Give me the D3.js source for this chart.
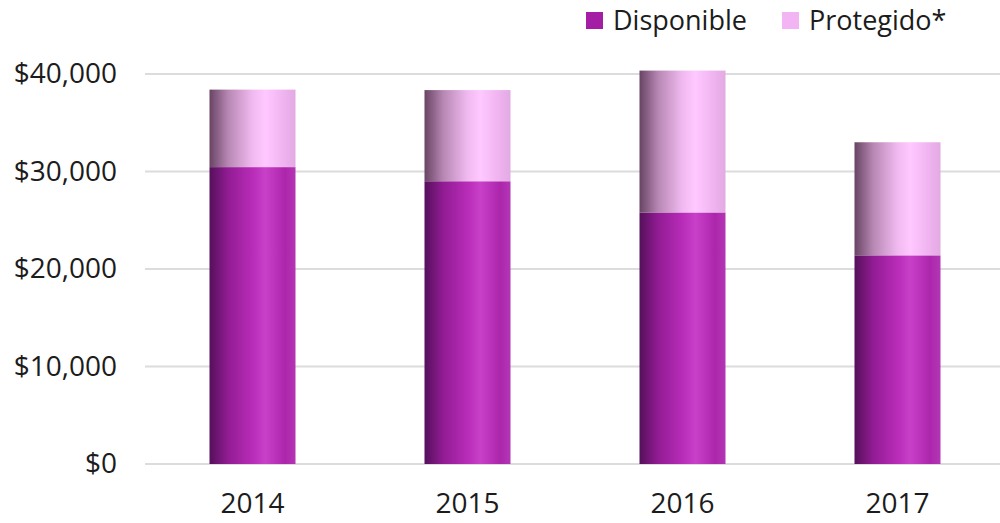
<!DOCTYPE html>
<html>
<head>
<meta charset="utf-8">
<script src="https://cdn.jsdelivr.net/npm/d3@7"></script>
<style>
  body { margin: 0; background: #fff; }
  text { font-family: "Open Sans", sans-serif; fill: #1c1c1c; }
</style>
</head>
<body>
<div id="chart"></div>
<script>
// chart data
var years = ['2014', '2015', '2016', '2017'];
var disponible = [30450, 29000, 25800, 21400];
var protegido = [7950, 9350, 14550, 11600];
var seriesNames = ['Disponible', 'Protegido*'];
var yTicks = [0, 10000, 20000, 30000, 40000];

var svgWidth = 1000,
  svgHeight = 523;

var margin = { t: 74, r: 0, b: 59, l: 145 };
var width = svgWidth - margin.l - margin.r,
  height = svgHeight - margin.t - margin.b;

var svg = d3.select('#chart')
  .append('svg')
  .attr('width', svgWidth)
  .attr('height', svgHeight);

// horizontal gradients to fake the cylinder shading
var defs = svg.append('defs');
function addGradient(id, stops) {
  var g = defs.append('linearGradient')
    .attr('id', id)
    .attr('x1', '0%').attr('x2', '100%')
    .attr('y1', '0%').attr('y2', '0%');
  stops.forEach(s => g.append('stop').attr('offset', s[0]).attr('stop-color', s[1]));
}
addGradient('gradDisp', [
  ['0%', '#55105a'], ['22%', '#921c94'], ['50%', '#b82cb8'],
  ['65%', '#c840c8'], ['88%', '#ac26ac'], ['100%', '#b436b4']
]);
addGradient('gradProt', [
  ['0%', '#684464'], ['22%', '#b888b4'], ['50%', '#f0baf0'],
  ['65%', '#ffc8ff'], ['88%', '#eeb2ee'], ['100%', '#e2aae2']
]);

var chartGroup = svg.append('g')
  .attr('transform', `translate(${margin.l},${margin.t})`);

var xScale = d3.scaleBand()
  .domain(years)
  .range([0, 860])
  .paddingInner(0.6)
  .paddingOuter(0.3);

var yScale = d3.scaleLinear()
  .domain([0, 40000])
  .range([height, 0]);

// gridlines
chartGroup.append('g')
  .selectAll('line')
  .data(yTicks)
  .enter()
  .append('line')
  .attr('x1', 0)
  .attr('x2', width)
  .attr('y1', d => yScale(d))
  .attr('y2', d => yScale(d))
  .attr('stroke', '#dcdcdc')
  .attr('stroke-width', 2);

// y axis labels
var yAxis = d3.axisLeft(yScale)
  .tickValues(yTicks)
  .tickSize(0)
  .tickPadding(28)
  .tickFormat(d => '$' + d3.format(',')(d));
var yG = chartGroup.append('g').call(yAxis);
yG.select('.domain').remove();
yG.selectAll('text')
  .style('font-size', '28px')
  .attr('fill', '#1c1c1c');

// x axis labels
var xAxis = d3.axisBottom(xScale).tickSize(0).tickPadding(29);
var xG = chartGroup.append('g')
  .attr('transform', `translate(0,${height})`)
  .call(xAxis);
xG.select('.domain').remove();
xG.selectAll('text')
  .style('font-size', '28px')
  .attr('fill', '#1c1c1c');

// stacked bars
var stackData = years.map((y, i) => ({ year: y, disp: disponible[i], prot: protegido[i] }));

chartGroup.append('g').selectAll('rect')
  .data(stackData)
  .enter()
  .append('rect')
  .attr('x', d => xScale(d.year))
  .attr('width', xScale.bandwidth())
  .attr('y', d => yScale(d.disp))
  .attr('height', d => height - yScale(d.disp))
  .attr('fill', 'url(#gradDisp)');

chartGroup.append('g').selectAll('rect')
  .data(stackData)
  .enter()
  .append('rect')
  .attr('x', d => xScale(d.year))
  .attr('width', xScale.bandwidth())
  .attr('y', d => yScale(d.disp + d.prot))
  .attr('height', d => yScale(d.disp) - yScale(d.disp + d.prot))
  .attr('fill', 'url(#gradProt)');

// legend
var legendColors = ['#a31ea5', '#f2b4f2'];
var legendX = [586, 782];
var legend = svg.append('g');
seriesNames.forEach((name, i) => {
  legend.append('rect')
    .attr('x', legendX[i])
    .attr('y', 12)
    .attr('width', 17)
    .attr('height', 17)
    .attr('fill', legendColors[i]);
  legend.append('text')
    .attr('x', legendX[i] + 27)
    .attr('y', 30)
    .style('font-size', '27px')
    .text(name);
});
</script>
</body>
</html>
